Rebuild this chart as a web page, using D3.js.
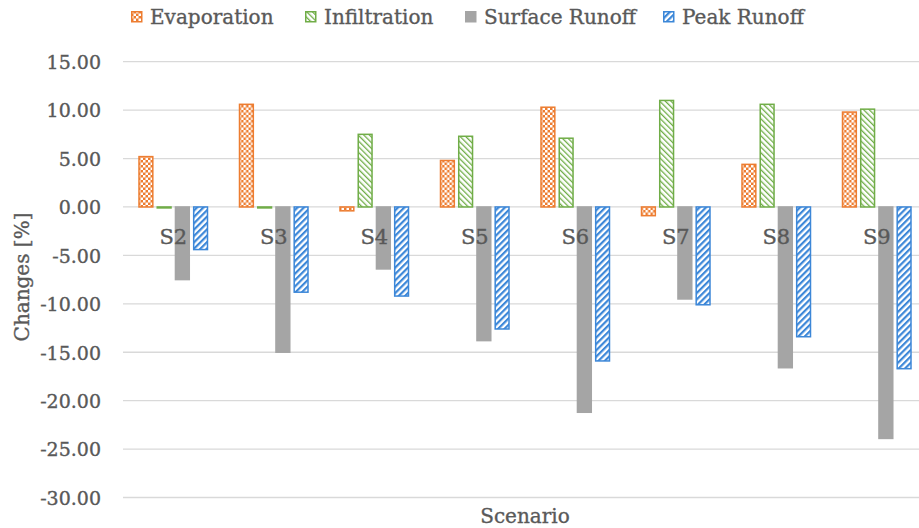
<!DOCTYPE html>
<html>
<head>
<meta charset="utf-8">
<script src="https://cdn.jsdelivr.net/npm/d3@7"></script>
<style>
  html, body { margin: 0; padding: 0; background: #fff; }
  svg { display: block; }
  text { font-family: "DejaVu Serif", "Liberation Serif", serif; fill: #595959; stroke: #595959; stroke-width: 0.35px; }
</style>
</head>
<body>
<svg id="chart" width="919" height="528"></svg>
<script>
// Scenario categories
const scenarios = ["S2", "S3", "S4", "S5", "S6", "S7", "S8", "S9"];
const seriesNames = ["Evaporation", "Infiltration", "Surface Runoff", "Peak Runoff"];

// Changes [%] per scenario
const evaporation   = [5.2, 10.6, -0.4, 4.8, 10.3, -0.9, 4.4, 9.8];
const infiltration  = [-0.1, -0.1, 7.5, 7.3, 7.1, 11.0, 10.6, 10.1];
const surfaceRunoff = [-7.5, -15.0, -6.4, -13.8, -21.2, -9.5, -16.6, -23.9];
const peakRunoff    = [-4.4, -8.8, -9.2, -12.6, -15.9, -10.1, -13.4, -16.7];

const yTicks = [15, 10, 5, 0, -5, -10, -15, -20, -25, -30];

const seriesValues = [evaporation, infiltration, surfaceRunoff, peakRunoff];

const svg = d3.select("#chart");
const defs = svg.append("defs");

// Fill patterns
const orange = "#ED7D31", green = "#70AD47", gray = "#A5A5A5", blue = "#3C87D8";

const pCheck = defs.append("pattern").attr("id", "pat-check")
  .attr("patternUnits", "userSpaceOnUse").attr("width", 5).attr("height", 5);
pCheck.append("rect").attr("width", 5).attr("height", 5).attr("fill", orange);
pCheck.append("rect").attr("x", 0).attr("y", 0).attr("width", 2.5).attr("height", 2.5).attr("fill", "#fff");
pCheck.append("rect").attr("x", 2.5).attr("y", 2.5).attr("width", 2.5).attr("height", 2.5).attr("fill", "#fff");

const pDown = defs.append("pattern").attr("id", "pat-down")
  .attr("patternUnits", "userSpaceOnUse").attr("width", 4).attr("height", 4)
  .attr("patternTransform", "rotate(-45)");
pDown.append("rect").attr("width", 4).attr("height", 4).attr("fill", "#fff");
pDown.append("rect").attr("width", 1.3).attr("height", 4).attr("fill", green);

const pUp = defs.append("pattern").attr("id", "pat-up")
  .attr("patternUnits", "userSpaceOnUse").attr("width", 4.5).attr("height", 4.5)
  .attr("patternTransform", "rotate(45)");
pUp.append("rect").attr("width", 4.5).attr("height", 4.5).attr("fill", "#fff");
pUp.append("rect").attr("width", 2.2).attr("height", 4.5).attr("fill", blue);

const fills = ["url(#pat-check)", "url(#pat-down)", gray, "url(#pat-up)"];
const strokes = [orange, green, gray, blue];

// Scales
const x = d3.scaleBand().domain(scenarios).range([123, 927]).paddingInner(0).paddingOuter(0);
const xInner = d3.scaleBand().domain(d3.range(seriesNames.length))
  .range([x.bandwidth() / 2 - 35, x.bandwidth() / 2 + 35]).paddingInner(0.16).paddingOuter(0);
const y = d3.scaleLinear().domain([-30, 15]).range([497.5, 61.7]);

// Gridlines
svg.append("g").selectAll("line").data(yTicks).join("line")
  .attr("x1", 123).attr("x2", 927)
  .attr("y1", d => y(d)).attr("y2", d => y(d))
  .attr("stroke", "#D9D9D9").attr("stroke-width", 1.3);

// Y axis labels (plain hyphen for negatives)
const fmt = d => d3.format(".2f")(d).replace("\u2212", "-");
const yAxis = d3.axisLeft(y).tickValues(yTicks).tickFormat(fmt).tickSize(0).tickPadding(0);
const yg = svg.append("g").attr("transform", "translate(101,0)").call(yAxis);
yg.select(".domain").remove();
yg.selectAll("text").attr("font-size", 19).attr("fill", "#595959")
  .attr("font-family", "DejaVu Serif").attr("dy", "0.36em");

// Bars
const groups = svg.append("g").selectAll("g").data(scenarios).join("g")
  .attr("transform", d => `translate(${x(d)},0)`);

groups.selectAll("rect").data((d, i) => seriesValues.map((vals, s) => ({ s, v: vals[i] })))
  .join("rect")
  .attr("x", d => xInner(d.s) + 0.75)
  .attr("width", xInner.bandwidth() - 1.5)
  .attr("y", d => Math.min(y(d.v), y(0)))
  .attr("height", d => Math.abs(y(d.v) - y(0)))
  .attr("fill", d => fills[d.s])
  .attr("stroke", d => strokes[d.s])
  .attr("stroke-width", 1.5);

// Category labels next to the zero line
svg.append("g").selectAll("text").data(scenarios).join("text")
  .attr("x", d => x(d) + x.bandwidth() / 2)
  .attr("y", y(0) + 37)
  .attr("text-anchor", "middle")
  .attr("font-size", 21)
  .text(d => d);

// Axis titles
svg.append("text")
  .attr("transform", `translate(29,277) rotate(-90)`)
  .attr("text-anchor", "middle")
  .attr("font-size", 20)
  .text("Changes [%]");

svg.append("text")
  .attr("x", 525).attr("y", 523)
  .attr("text-anchor", "middle")
  .attr("font-size", 20)
  .text("Scenario");

// Legend
const legendX = [131, 305, 465, 663];
const legend = svg.append("g").selectAll("g").data(seriesNames).join("g")
  .attr("transform", (d, i) => `translate(${legendX[i]},11)`);
legend.append("rect")
  .attr("x", 0.75).attr("y", 0.75).attr("width", 10).attr("height", 10)
  .attr("fill", (d, i) => fills[i]).attr("stroke", (d, i) => strokes[i]).attr("stroke-width", 1.5);
legend.append("text")
  .attr("x", 19).attr("y", 13)
  .attr("font-size", 20)
  .text(d => d);
</script>
</body>
</html>
